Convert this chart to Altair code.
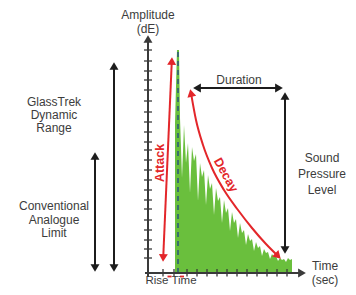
import altair as alt
import pandas as pd

# ---- waveform (time units, amplitude units) ----
wave_t = [2.7, 2.9, 3.1, 3.2, 3.4, 3.6, 3.8, 4.0, 4.2, 4.4, 4.6, 4.8, 5.0, 5.2, 5.4,
          5.6, 5.8, 6.0, 6.2, 6.4, 6.6, 6.8, 7.0, 7.2, 7.4, 7.6, 7.8, 8.0, 8.2, 8.4,
          8.6, 8.8, 9.0, 9.2, 9.4, 9.6, 9.8, 10.0, 10.2, 10.4, 10.6, 10.8, 11.0, 11.2,
          11.4, 11.6, 11.8, 12.0, 12.2, 12.4, 12.6, 12.8, 13.0, 13.2, 13.4, 13.6, 13.8,
          14.0, 14.2, 14.4]
wave_a = [15.0, 22.3, 22.3, 15.5, 9.5, 14.8, 11.0, 13.0, 8.0, 12.6, 11.2, 11.9, 7.2, 11.0, 9.6,
          10.3, 6.8, 9.8, 8.4, 9.0, 5.8, 8.5, 7.2, 7.6, 5.0, 7.3, 6.0, 6.5, 4.2, 6.1,
          5.0, 5.4, 3.5, 5.0, 4.0, 4.3, 2.8, 3.9, 3.2, 3.4, 2.2, 3.1, 2.5, 2.7,
          1.7, 2.4, 2.0, 2.1, 1.4, 1.9, 1.6, 1.7, 1.2, 1.5, 1.3, 1.4, 1.1,
          1.5, 1.3, 1.4]

# axis ticks
ytick_vals = [1.5, 2.4, 3.3, 4.3, 5.3, 6.4, 7.3, 8.3, 9.3, 10.3, 11.3, 12.3, 13.1, 14.1,
              15.1, 16.1, 17.2, 18.3, 19.3, 20.2, 21.2, 22.3]
xtick_vals = [1.5, 2.6, 3.9, 4.9, 5.9, 6.9, 7.9, 8.9, 9.9, 10.9, 11.9, 12.9, 13.9]

# decay curve
decay_x = [4.3, 4.8, 5.5, 6.4, 7.6, 9.0, 10.4, 11.8, 13.0]
decay_y = [18.0, 15.3, 12.8, 10.5, 8.3, 6.3, 4.5, 2.9, 1.7]

# straight arrows
arrow_names = ["attack", "duration", "spl", "glasstrek", "conventional", "yaxis", "xaxis"]
arrow_x1 = [1.52, 4.9, 13.7, -3.4, -5.3, 0.0, -0.3]
arrow_y1 = [1.5, 18.5, 17.7, 20.7, 11.7, -0.4, 0.0]
arrow_x2 = [2.38, 13.1, 13.7, -3.4, -5.3, 0.0, 15.4]
arrow_y2 = [21.2, 18.5, 2.3, 0.5, 0.5, 23.4, 0.0]
arrow_col = ["red", "black", "black", "black", "black", "axis", "axis"]

# arrowheads
head_x = [1.52, 2.38, 4.3, 13.0, 4.9, 13.1, 13.7, 13.7, -3.4, -3.4, -5.3, -5.3, 0.0, 15.4]
head_y = [1.5, 21.2, 18.0, 1.7, 18.5, 18.5, 17.7, 2.3, 20.7, 0.5, 11.7, 0.5, 23.4, 0.0]
head_ang = [182.6, 2.6, 348, 135, 270, 90, 0, 180, 0, 180, 0, 180, 0, 90]
head_col = ["red", "red", "red", "red", "black", "black", "black", "black", "black",
            "black", "black", "black", "axis", "axis"]

# labels
lab_text = ["Amplitude", "(dE)", "Duration", "GlassTrek", "Dynamic", "Range",
            "Conventional", "Analogue", "Limit", "Sound", "Pressure", "Level",
            "Time", "(sec)"]
lab_x = [0.0, 0.0, 9.1, -9.4, -9.4, -9.4, -9.4, -9.4, -9.4, 17.4, 17.4, 17.4, 17.7, 17.7]
lab_y = [25.8, 24.45, 19.3, 17.1, 15.8, 14.5, 6.7, 5.3, 4.0, 11.5, 9.9, 8.3, 0.75, -0.7]

rise_text = ["Rise Time"]
rise_x = [2.3]
rise_y = [-0.8]

red_text = ["Attack", "Decay"]
red_x = [1.2, 7.8]
red_y = [11.0, 9.8]
red_ang = [270, 61]

GREEN = "#6abf3d"
RED = "#e3262a"
BLACK = "#1c1c1c"
AXIS = "#3a3a3a"
TEXT = "#3c3c3c"
FONT = "Liberation Sans"

xs = alt.Scale(domain=[-14, 20], nice=False, zero=False)
ys = alt.Scale(domain=[-1.4, 26.5], nice=False, zero=False)
X = lambda f="x": alt.X(f"{f}:Q", scale=xs, axis=None)
Y = lambda f="y": alt.Y(f"{f}:Q", scale=ys, axis=None)
col_scale = alt.Scale(domain=["red", "black", "axis"], range=[RED, BLACK, AXIS])

wave = pd.DataFrame({"x": wave_t, "y": wave_a, "b": [0.0] * len(wave_t)})
area = alt.Chart(wave).mark_area(color=GREEN, interpolate="linear").encode(
    x=X(), y=Y(), y2="b:Q")

dash = alt.Chart(pd.DataFrame({"x": [3.0], "y": [0.0], "y2": [22.3]})).mark_rule(
    color="#2d5c78", strokeDash=[5, 4], strokeWidth=1.6).encode(x=X(), y=Y(), y2="y2:Q")

yt = pd.DataFrame({"x": [-0.4] * len(ytick_vals), "x2": [0.4] * len(ytick_vals), "y": ytick_vals})
yticks = alt.Chart(yt).mark_rule(color=AXIS, strokeWidth=1.3).encode(x=X(), x2="x2:Q", y=Y())
xt = pd.DataFrame({"x": xtick_vals, "y": [-0.35] * len(xtick_vals), "y2": [0.4] * len(xtick_vals)})
xticks = alt.Chart(xt).mark_rule(color=AXIS, strokeWidth=1.3).encode(x=X(), y=Y(), y2="y2:Q")

arr = pd.DataFrame({"name": arrow_names, "x": arrow_x1, "y": arrow_y1,
                    "x2": arrow_x2, "y2": arrow_y2, "c": arrow_col})
arrows = alt.Chart(arr).mark_rule(strokeWidth=2).encode(
    x=X(), y=Y(), x2="x2:Q", y2="y2:Q",
    color=alt.Color("c:N", scale=col_scale, legend=None))

dec = pd.DataFrame({"x": decay_x, "y": decay_y, "o": list(range(len(decay_x)))})
decay = alt.Chart(dec).mark_line(color=RED, strokeWidth=2, interpolate="monotone").encode(
    x=X(), y=Y(), order="o:Q")

heads = pd.DataFrame({"x": head_x, "y": head_y, "a": head_ang, "c": head_col})
headm = alt.Chart(heads).mark_point(shape="triangle-up", filled=True, size=80, opacity=1).encode(
    x=X(), y=Y(), angle=alt.Angle("a:Q", scale=None),
    color=alt.Color("c:N", scale=col_scale, legend=None))

rise = pd.DataFrame({"x": [1.95, 3.2], "x2": [2.35, 3.6], "y": [-0.35, -0.35]})
risem = alt.Chart(rise).mark_rule(color=RED, strokeWidth=1.8).encode(x=X(), x2="x2:Q", y=Y())

labs = pd.DataFrame({"t": lab_text, "x": lab_x, "y": lab_y})
labels = alt.Chart(labs).mark_text(font=FONT, fontSize=12, color=TEXT, baseline="middle",
                                   align="center").encode(x=X(), y=Y(), text="t:N")

rl = pd.DataFrame({"t": rise_text, "x": rise_x, "y": rise_y})
riselab = alt.Chart(rl).mark_text(font=FONT, fontSize=11.5, color=TEXT, baseline="middle",
                                  align="center").encode(x=X(), y=Y(), text="t:N")

reds = pd.DataFrame({"t": red_text, "x": red_x, "y": red_y, "a": red_ang})
redlab = alt.Chart(reds).mark_text(font=FONT, fontSize=12.5, fontWeight="bold", color=RED,
                                   baseline="middle", align="center").encode(
    x=X(), y=Y(), text="t:N", angle=alt.Angle("a:Q", scale=None))

chart = alt.layer(area, dash, yticks, xticks, arrows, decay, headm, risem, labels, riselab,
                  redlab).properties(
    width=340, height=279, padding=0,
    autosize=alt.AutoSizeParams(type="none"),
).configure_view(stroke=None).resolve_scale(color="shared")

chart.save("out.html", embed_options={"renderer": "svg", "actions": False})
